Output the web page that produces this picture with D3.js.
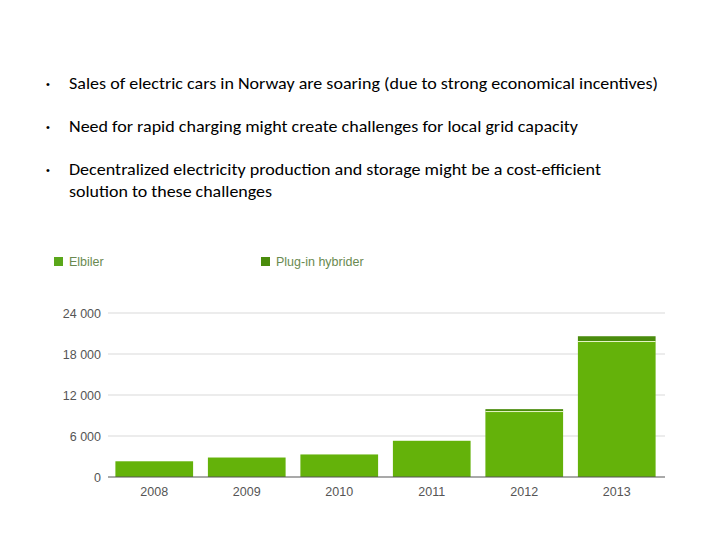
<!DOCTYPE html>
<html><head><meta charset="utf-8">
<script src="https://cdn.jsdelivr.net/npm/d3@7"></script>
<style>body{margin:0;background:#fff}svg{display:block}</style>
</head><body>
<svg id="c" width="720" height="540"></svg>
<script>
const bullets = [
  ["Sales of electric cars in Norway are soaring (due to strong economical incentives)"],
  ["Need for rapid charging might create challenges for local grid capacity"],
  ["Decentralized electricity production and storage might be a cost-efficient", "solution to these challenges"]
];
const bulletWidths = [[589], [509], [532, 203]];
const years = ["2008","2009","2010","2011","2012","2013"];
const elbiler = [2300, 2850, 3300, 5300, 9650, 19900];
const plugin = [0, 0, 0, 0, 280, 700];
const yTicks = [0, 6000, 12000, 18000, 24000];
const seriesNames = ["Elbiler", "Plug-in hybrider"];
const colors = ["#64b20a", "#4a8c0c"];

const svg = d3.select("#c");

// bullet text
const bulletY = [89, 132, 175];
bullets.forEach((lines, i) => {
  svg.append("text").attr("x", 46).attr("y", bulletY[i] - 1).attr("font-family", "'Liberation Sans', sans-serif")
    .attr("font-size", 11).attr("fill", "#000").text("•");
  lines.forEach((l, j) => {
    svg.append("text").attr("x", 69).attr("y", bulletY[i] + j * 22)
      .attr("font-family", "Carlito, Lato, 'Liberation Sans', sans-serif")
      .attr("font-size", 16).attr("fill", "#000")
      .attr("textLength", bulletWidths[i][j]).attr("lengthAdjust", "spacingAndGlyphs")
      .text(l);
  });
});

// scales
const x = d3.scaleBand().domain(years).range([108, 663]).paddingInner(0.16).paddingOuter(0.08);
const y = d3.scaleLinear().domain([0, 24000]).range([477, 313]);

// grid
const grid = svg.append("g");
grid.selectAll("line").data(yTicks.filter(d => d > 0)).join("line")
  .attr("x1", 108).attr("x2", 665).attr("y1", d => y(d)).attr("y2", d => y(d))
  .attr("stroke", "#d9d9d9").attr("stroke-width", 1);

const fmt = d => d === 0 ? "0" : d3.format(",")(d).replace(/,/g, " ");
svg.append("g").selectAll("text").data(yTicks).join("text")
  .attr("x", 101).attr("y", d => y(d) + 4.5).attr("text-anchor", "end")
  .attr("font-family", "'Liberation Sans', Arial, sans-serif").attr("font-size", 12.5)
  .attr("fill", "#555").text(fmt);

// bars
const bars = svg.append("g");
years.forEach((yr, i) => {
  bars.append("rect").attr("x", x(yr)).attr("width", x.bandwidth())
    .attr("y", y(elbiler[i])).attr("height", y(0) - y(elbiler[i])).attr("fill", colors[0]);
  if (plugin[i] > 0) {
    const top = y(elbiler[i] + plugin[i]);
    bars.append("rect").attr("x", x(yr)).attr("width", x.bandwidth())
      .attr("y", top).attr("height", y(elbiler[i]) - top).attr("fill", colors[1]);
    bars.append("line").attr("x1", x(yr)).attr("x2", x(yr) + x.bandwidth())
      .attr("y1", y(elbiler[i]) + 0.5).attr("y2", y(elbiler[i]) + 0.5)
      .attr("stroke", "#e8f5c8").attr("stroke-width", 1);
  }
});

// x axis
svg.append("line").attr("x1", 108).attr("x2", 665).attr("y1", 477).attr("y2", 477)
  .attr("stroke", "#555").attr("stroke-width", 1.2);
svg.append("g").selectAll("text").data(years).join("text")
  .attr("x", d => x(d) + x.bandwidth() / 2).attr("y", 496).attr("text-anchor", "middle")
  .attr("font-family", "'Liberation Sans', Arial, sans-serif").attr("font-size", 12.5)
  .attr("fill", "#555").text(d => d);

// legend
const legX = [54, 261];
seriesNames.forEach((n, i) => {
  svg.append("rect").attr("x", legX[i]).attr("y", 257).attr("width", 9).attr("height", 9).attr("fill", i === 0 ? "#5aa71a" : colors[1]);
  svg.append("text").attr("x", legX[i] + 15).attr("y", 266)
    .attr("font-family", "'Liberation Sans', Arial, sans-serif").attr("font-size", 12.5)
    .attr("fill", "#6a8a50").text(n);
});
</script>
</body></html>
